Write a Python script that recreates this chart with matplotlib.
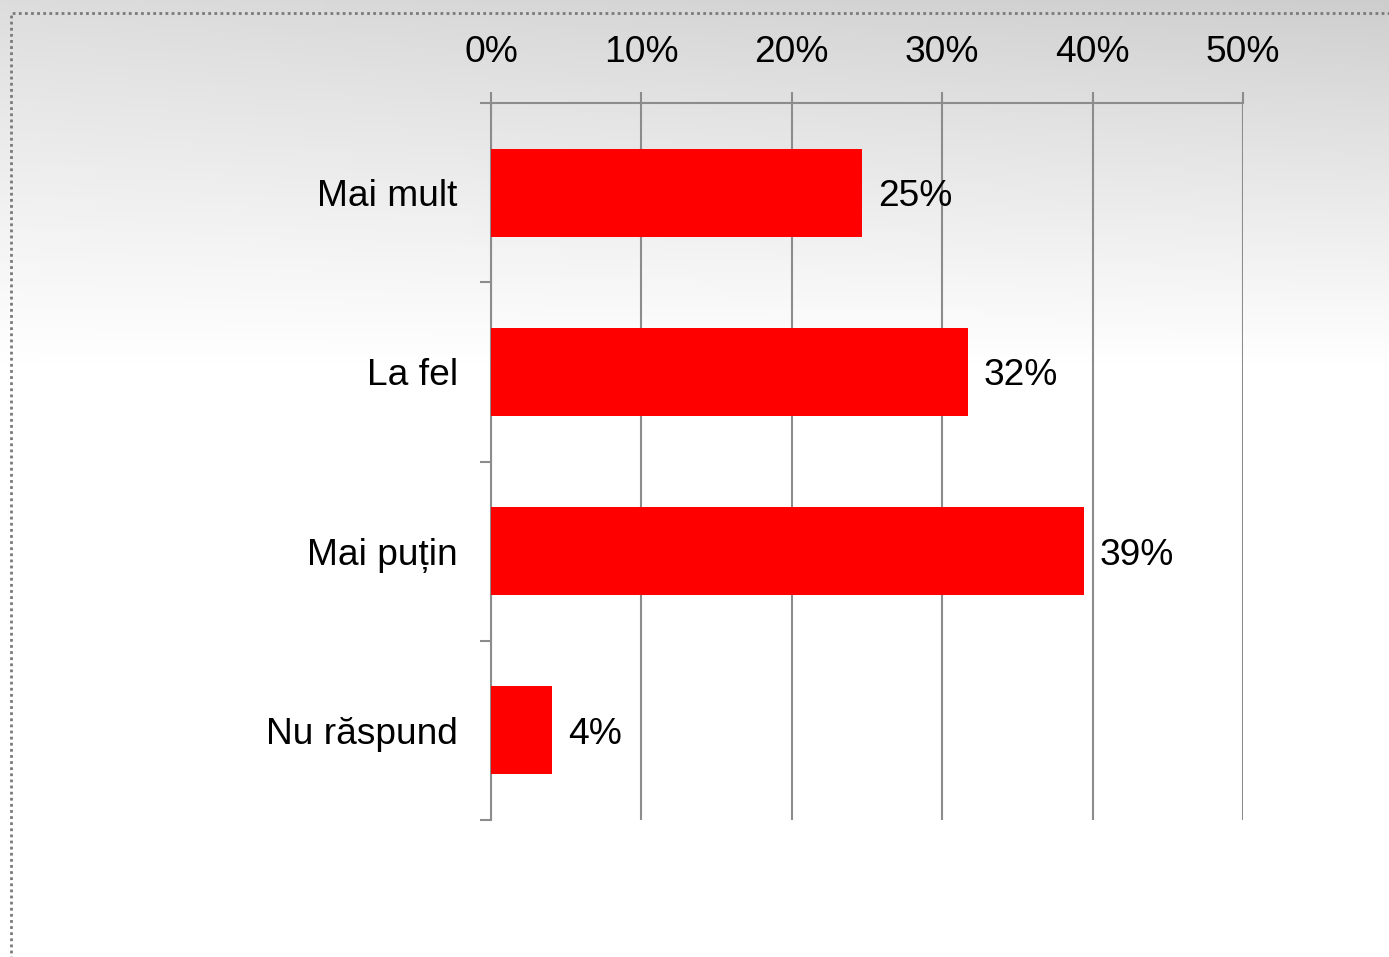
import matplotlib
matplotlib.use("Agg")
import matplotlib.pyplot as plt
import numpy as np
from matplotlib.patches import Rectangle

categories = ["Mai mult", "La fel", "Mai puțin", "Nu răspund"]
values = [24.7, 31.7, 39.4, 4.05]
labels = ["25%", "32%", "39%", "4%"]
xticks = [0, 10, 20, 30, 40, 50]
xticklabels = ["0%", "10%", "20%", "30%", "40%", "50%"]

plt.rcParams['font.family'] = ['Liberation Sans', 'DejaVu Sans']

W, H = 1389, 957
fig = plt.figure(figsize=(W / 100, H / 100), dpi=100)

# background gradient
bg = fig.add_axes([0, 0, 1, 1], zorder=-10)
yy = np.linspace(0, 1, 300)[:, None]
xx = np.linspace(0, 1, 300)[None, :]
t = np.clip((yy - 0.0) / 0.38, 0, 1)
top = 0.865 - 0.06 * xx
val = top + (1.0 - top) * (t ** 0.9)
img = np.dstack([val, val, val])
bg.imshow(img, extent=[0, 1, 0, 1], aspect='auto', origin='upper')
bg.set_xlim(0, 1); bg.set_ylim(0, 1)
bg.axis('off')

# dotted border
fig.patches.append(Rectangle((10.5 / W, -0.1), 1.2, (H - 12.5) / H + 0.1,
                             transform=fig.transFigure, fill=False,
                             edgecolor='#7a7a7a', linestyle=(0, (1, 1.2)),
                             linewidth=2.0, zorder=5))

x0, x1 = 491, 1243
y_top, y_bot = 103, 820
ax = fig.add_axes([x0 / W, 1 - y_bot / H, (x1 - x0) / W, (y_bot - y_top) / H])
ax.patch.set_alpha(0)

fs = 26.7
pos = np.arange(len(categories))
ax.barh(pos, values, height=0.49, color='#ff0000', zorder=3)
ax.set_ylim(len(categories) - 0.5, -0.5)
ax.set_xlim(0, 50)

for p, v, lab in zip(pos, values, labels):
    ax.annotate(lab, (v, p), xytext=(16, 0), textcoords='offset pixels',
                va='center_baseline', ha='left', fontsize=fs, color='#000000', zorder=4)

gray = '#8c8c8c'
ax.xaxis.tick_top()
ax.set_xticks(xticks)
ax.set_xticklabels(xticklabels, fontsize=fs)
ax.tick_params(axis='x', length=8, width=1.5, color=gray, pad=16)
ax.set_yticks(pos)
ax.set_yticklabels(categories, fontsize=fs, va='center_baseline')
ax.set_yticks(np.arange(len(categories) + 1) - 0.5, minor=True)
ax.tick_params(axis='y', which='major', length=0, pad=24)
ax.tick_params(axis='y', which='minor', length=8, width=1.5, color=gray)
ax.grid(axis='x', color=gray, linewidth=1.5, zorder=1)
for s in ['right', 'bottom']:
    ax.spines[s].set_visible(False)
for s in ['top', 'left']:
    ax.spines[s].set_color(gray)
    ax.spines[s].set_linewidth(1.5)
    ax.spines[s].set_zorder(2)

fig.savefig('out.png', dpi=100)
